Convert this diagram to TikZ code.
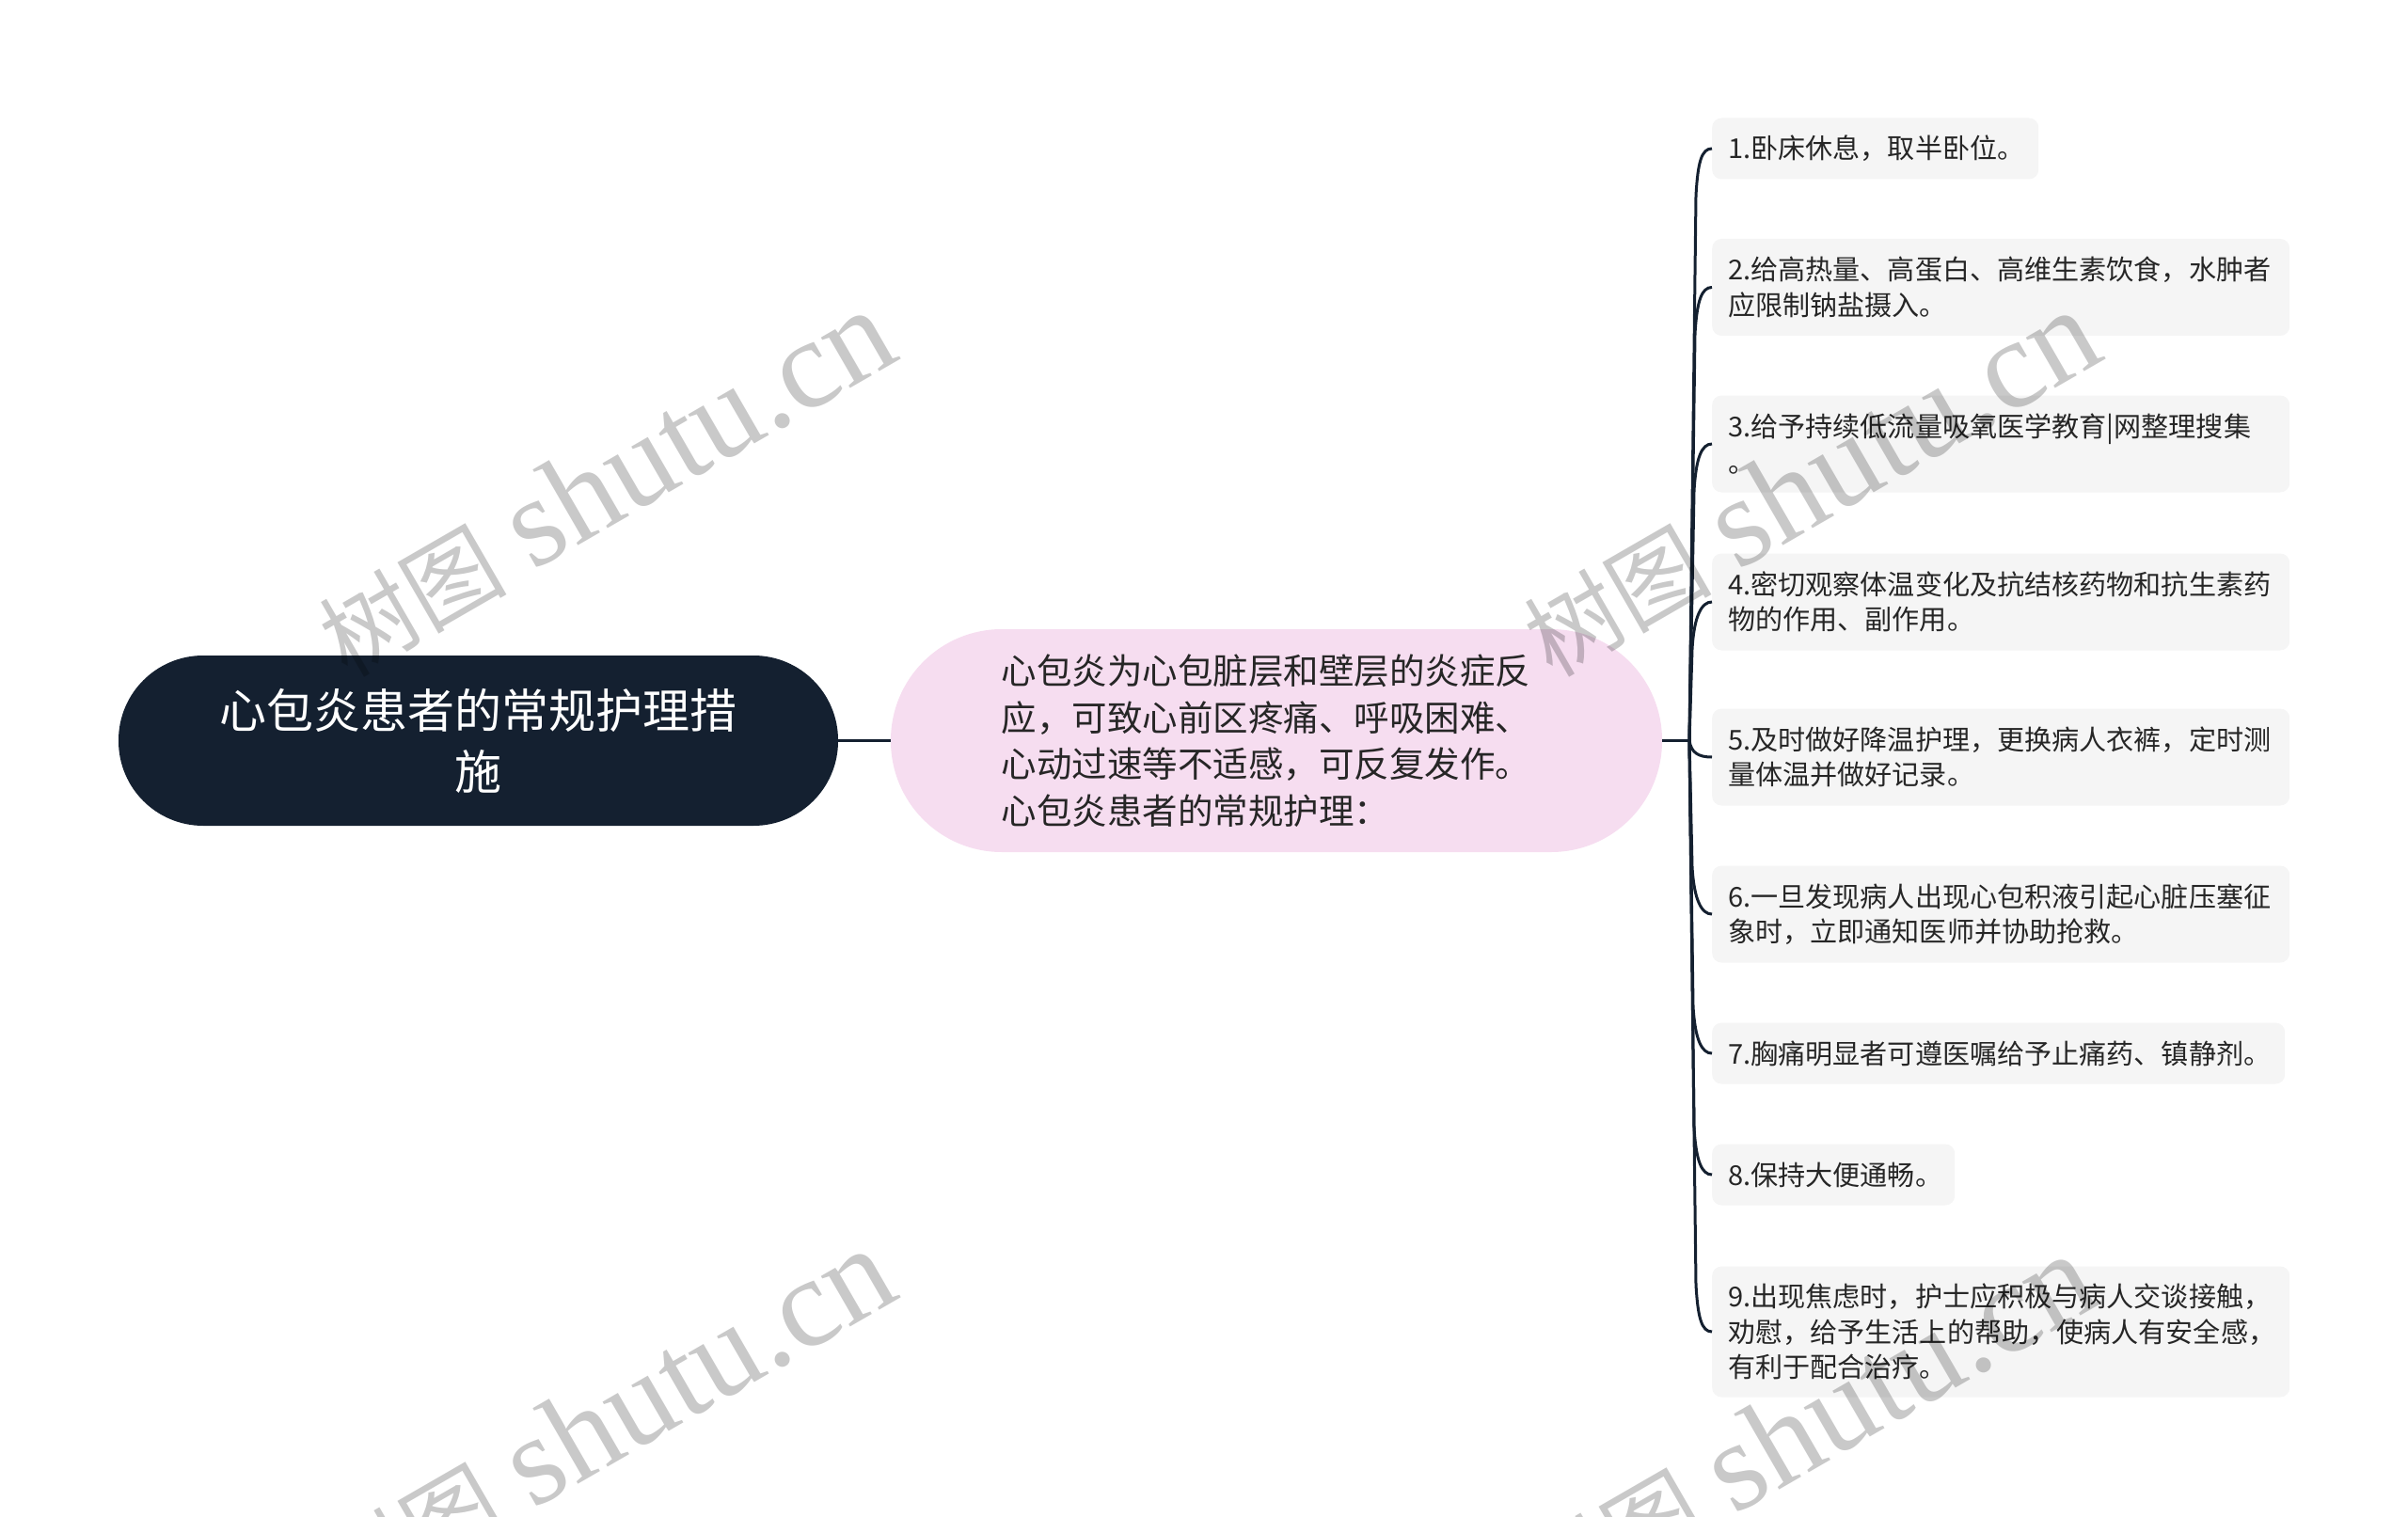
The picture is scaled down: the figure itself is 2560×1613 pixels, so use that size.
\documentclass[tikz,border=0pt]{standalone}
\usepackage{fontspec}
\setmainfont{Noto Sans CJK SC}
\newfontfamily\wmlatin{Liberation Serif}
\newfontfamily\wmcjk{Noto Sans CJK SC}
\definecolor{navy}{HTML}{142030}
\definecolor{pinkfill}{HTML}{F6DDF0}
\definecolor{leafgray}{HTML}{F5F5F5}
\definecolor{txt}{HTML}{262626}
\tikzset{
  conn/.style={draw=navy, line width=3pt},
  leaf/.style={fill=leafgray, rounded corners=10pt, anchor=west, inner xsep=17pt, inner ysep=0pt,
    align=left, text=txt, font=\fontsize{29.1}{37.5}\selectfont},
  rootnode/.style={fill=navy, rounded corners=90pt, minimum width=765pt, minimum height=181pt,
    align=center, text=white, inner sep=0pt, font=\fontsize{50}{65}\selectfont},
  midnode/.style={fill=pinkfill, rounded corners=118pt, minimum width=820pt, minimum height=237pt,
    align=left, text=txt, inner sep=0pt, text width=585pt, font=\fontsize{37.5}{49.5}\selectfont},
  wm/.style={text=black, text opacity=0.21, rotate=30, inner sep=0pt}
}
\newcommand{\wmtext}{{\fontsize{100}{100}\wmcjk 树图}\hspace{28pt}{\fontsize{135}{135}\wmlatin shutu.cn}}
\begin{document}
\begin{tikzpicture}[x=1pt, y=-1pt]
\useasboundingbox (0,0) rectangle (2560,1613);
\node[rootnode] (root) at (508.5,787.5) {心包炎患者的常规护理措\\施};
\node[midnode] (mid) at (1357,787.5) {心包炎为心包脏层和壁层的炎症反\\应，可致心前区疼痛、呼吸困难、\\心动过速等不适感，可反复发作。\\心包炎患者的常规护理：};
\draw[conn] (root.east) -- (mid.west);

\node[leaf, text width=313pt, minimum height=65pt] (c1) at (1820,158) {1.卧床休息，取半卧位。};
\node[leaf, text width=580pt, minimum height=103pt] (c2) at (1820,305.5) {2.给高热量、高蛋白、高维生素饮食，水肿者\\应限制钠盐摄入。};
\node[leaf, text width=580pt, minimum height=103pt] (c3) at (1820,472) {3.给予持续低流量吸氧医学教育|网整理搜集\\。};
\node[leaf, text width=580pt, minimum height=103pt] (c4) at (1820,640) {4.密切观察体温变化及抗结核药物和抗生素药\\物的作用、副作用。};
\node[leaf, text width=580pt, minimum height=103pt] (c5) at (1820,805) {5.及时做好降温护理，更换病人衣裤，定时测\\量体温并做好记录。};
\node[leaf, text width=580pt, minimum height=103pt] (c6) at (1820,972) {6.一旦发现病人出现心包积液引起心脏压塞征\\象时，立即通知医师并协助抢救。};
\node[leaf, text width=575pt, minimum height=65pt] (c7) at (1820,1120) {7.胸痛明显者可遵医嘱给予止痛药、镇静剂。};
\node[leaf, text width=224pt, minimum height=65pt] (c8) at (1820,1249) {8.保持大便通畅。};
\node[leaf, text width=580pt, minimum height=139pt] (c9) at (1820,1416) {9.出现焦虑时，护士应积极与病人交谈接触，\\劝慰，给予生活上的帮助，使病人有安全感，\\有利于配合治疗。};

\coordinate (trunk) at (1796,787.5);
\draw[conn] (mid.east) -- (trunk);
\draw[conn] (trunk) -- (1803,208) .. controls (1805,172) and (1809,158) .. (c1.west);
\draw[conn] (trunk) -- (1802,355) .. controls (1804,320) and (1809,305.5) .. (c2.west);
\draw[conn] (trunk) -- (1801,522) .. controls (1803,487) and (1809,472) .. (c3.west);
\draw[conn] (trunk) -- (1799,690) .. controls (1801,655) and (1809,640) .. (c4.west);
\draw[conn] (trunk) .. controls (1798,800) and (1805,805) .. (c5.west);
\draw[conn] (trunk) -- (1799,922) .. controls (1801,957) and (1809,972) .. (c6.west);
\draw[conn] (trunk) -- (1800,1070) .. controls (1802,1105) and (1809,1120) .. (c7.west);
\draw[conn] (trunk) -- (1801,1199) .. controls (1803,1234) and (1809,1249) .. (c8.west);
\draw[conn] (trunk) -- (1803,1366) .. controls (1805,1401) and (1809,1416) .. (c9.west);

\begin{scope}
\clip (0,0) rectangle (2560,1613);
\node[wm] (w1) at (643,514) {\wmtext};
\node[wm] (w2) at (1924,514) {\wmtext};
\node[wm] (w3) at (643,1512) {\wmtext};
\node[wm] (w4) at (1920,1518) {\wmtext};
\end{scope}
\end{tikzpicture}
\end{document}
